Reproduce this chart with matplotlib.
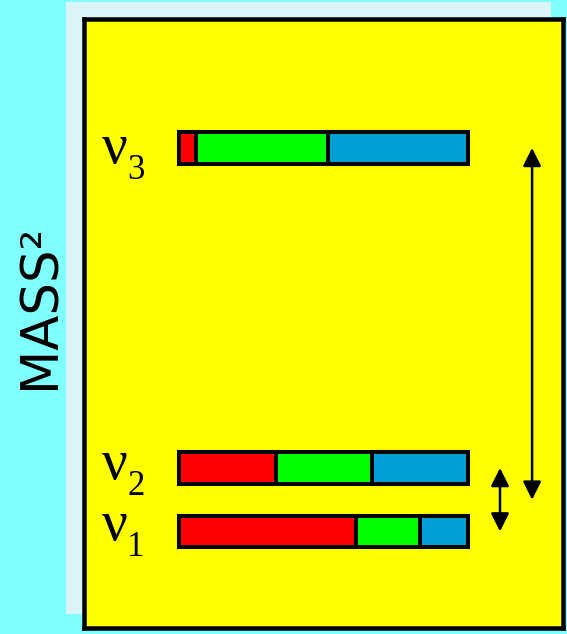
import matplotlib
matplotlib.use("Agg")
import matplotlib.pyplot as plt
from matplotlib.patches import Rectangle, FancyArrowPatch
from matplotlib.transforms import offset_copy
import numpy as np

# ---- data ----
states = ["1", "2", "3"]                 # mass eigenstates nu_1, nu_2, nu_3
mass2_levels = [0.0, 1.0, 6.04]          # relative mass^2 (arbitrary units)
frac_e = [0.611, 0.334, 0.057]           # electron flavour content (red)
frac_mu = [0.221, 0.332, 0.457]          # muon flavour content (green)
frac_tau = [0.168, 0.334, 0.486]         # tau flavour content (blue)
ylabel_text = "MASS²"

# ---- style ----
CYAN = "#80FFFF"
PANEL = "#DDF5F8"
YELLOW = "#FFFF00"
C_E, C_MU, C_TAU = "#FF0000", "#00FF00", "#009FD7"
PX = 72 / 100  # points per pixel

W, H = 567, 634
fig = plt.figure(figsize=(W / 100, H / 100), dpi=100)
fig.patch.set_facecolor(CYAN)

# light backing panel
fig.add_artist(Rectangle((66 / W, (H - 614) / H), (551 - 66) / W, (614 - 2) / H,
                         transform=fig.transFigure, facecolor=PANEL,
                         edgecolor="none", zorder=0))

# yellow box axes
left_px, right_px, top_px, bot_px = 84, 563, 19, 628
ax = fig.add_axes([left_px / W, (H - bot_px) / H,
                   (right_px - left_px) / W, (bot_px - top_px) / H])
ax.set_facecolor(YELLOW)
for s in ax.spines.values():
    s.set_linewidth(4.5 * PX)
    s.set_color("black")
ax.set_xticks([])
ax.set_yticks([])
ax.set_xlim(-0.3304, 1.327)
ax.set_ylim(-1.52, 8.07)

# stacked flavour bars
y = np.array(mass2_levels)
e = np.array(frac_e)
mu = np.array(frac_mu)
tau = np.array(frac_tau)
bh = 0.50
kw = dict(height=bh, edgecolor="black", linewidth=4 * PX, zorder=3)
ax.barh(y, e, left=0, color=C_E, **kw)
ax.barh(y, mu, left=e, color=C_MU, **kw)
ax.barh(y, tau, left=e + mu, color=C_TAU, **kw)

# labels nu_i
nu_dy_px = [8.5, 11, 15]
for lev, st, dy in zip(mass2_levels, states, nu_dy_px):
    t1 = offset_copy(ax.transData, fig=fig, x=0, y=-dy * PX, units="points")
    ax.text(-0.268, lev, "ν", transform=t1, fontsize=41,
            family="Liberation Serif", ha="left", va="baseline")
    t2 = offset_copy(ax.transData, fig=fig, x=0, y=-(dy + 16) * PX, units="points")
    ax.text(-0.180, lev, st, transform=t2, fontsize=25,
            family="Liberation Serif", ha="left", va="baseline")

# double arrows
def darrow(x, y0, y1):
    a = FancyArrowPatch((x, y0), (x, y1),
                        arrowstyle="<|-|>,head_length=11,head_width=5.5",
                        mutation_scale=1, color="black", linewidth=2.5 * PX,
                        shrinkA=0, shrinkB=0, zorder=4)
    ax.add_patch(a)

darrow(1.109, mass2_levels[0], mass2_levels[1])
darrow(1.220, (mass2_levels[0] + mass2_levels[1]) / 2, mass2_levels[2])

# y label
fig.text(41 / W, 1 - 306 / H, ylabel_text, rotation=90, fontsize=37,
         family="DejaVu Sans", ha="center", va="center")

fig.savefig("out.png", dpi=100, facecolor=fig.get_facecolor())
